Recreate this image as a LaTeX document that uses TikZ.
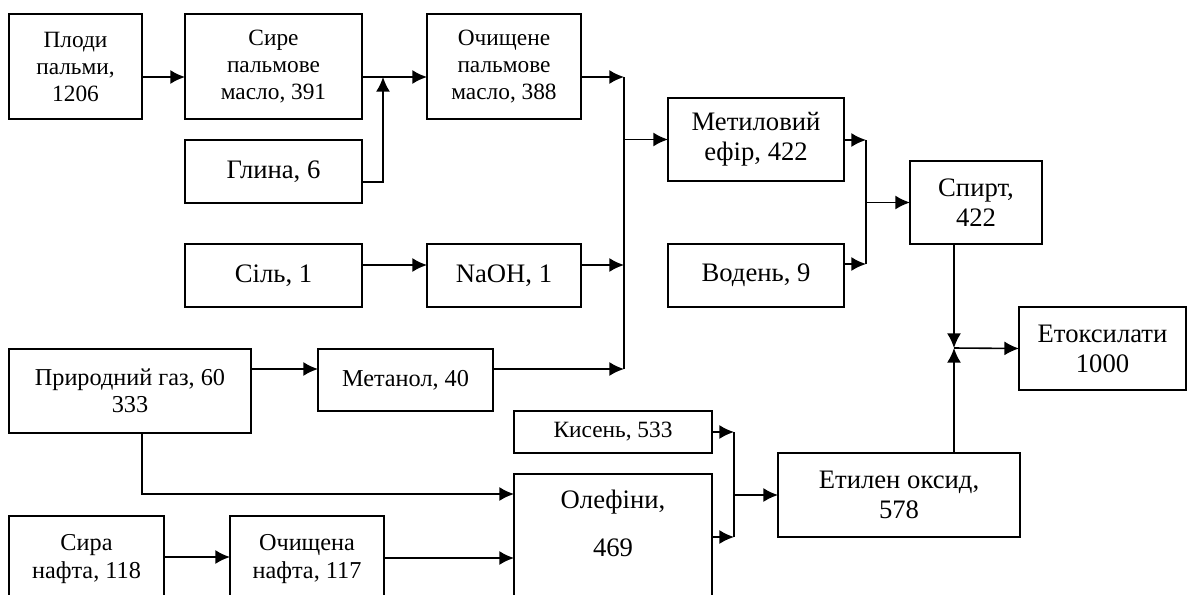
\documentclass[tikz,border=0pt]{standalone}
\usepackage{fontspec}
\setmainfont{Liberation Serif}
\usetikzlibrary{arrows.meta,calc}

\tikzset{%
	>={Latex[length=11pt,width=10.5pt]},
	blok/.style={draw,line width=1.3pt,align=center,inner sep=0pt,outer sep=0pt},
	mal/.style={font=\fontsize{17.5}{20.25}\selectfont},
	ser/.style={font=\fontsize{18.2}{20.5}\selectfont},
	vel/.style={font=\fontsize{20}{22.5}\selectfont},
	potik/.style={->,line width=1.2pt},
	liniya/.style={line width=1.2pt}
}
% box from (x1,y1) to (x2,y2), in pixels
\newcommand\Blok[7][]{%
	\node[blok,minimum width={(#5-#3)*0.75pt},minimum height={(#6-#4)*0.75pt},#1]
	(#2) at ({(#3+#5)/2},{(#4+#6)/2}) {#7};
}

\begin{document}
\begin{tikzpicture}[x=0.75pt,y=-0.75pt]
	\useasboundingbox (0,0) rectangle (1187,594);
	\clip (0,0) rectangle (1187,594);
	
	%% blocks
	\Blok[mal]{plody}{9}{14}{142}{119}{Плоди\\пальми,\\1206}
	\Blok[mal]{syre}{185}{14}{362}{119}{Сире\\пальмове\\масло, 391}
	\Blok[mal]{ochyshch}{427}{14}{581}{119}{Очищене\\пальмове\\масло, 388}
	\Blok[vel]{hlyna}{185}{140}{362}{203}{Глина, 6}
	\Blok[vel]{metefir}{668}{98}{844}{181}{Метиловий\\ефір, 422}
	\Blok[vel]{spyrt}{910}{161}{1042}{244}{Спирт,\\422}
	\Blok[vel]{voden}{668}{244}{844}{307}{Водень, 9}
	\Blok[vel]{sil}{185}{244}{362}{307}{Сіль, 1}
	\Blok[vel]{naoh}{427}{244}{581}{307}{NaOH, 1}
	\Blok[ser]{gaz}{9}{349}{251}{433}{Природний газ, 60\\333}
	\Blok[ser]{metanol}{318}{349}{493}{411}{Метанол, 40}
	\Blok[vel]{etoks}{1019}{307}{1186}{390}{Етоксилати\\1000}
	\Blok[mal]{kysen}{514}{411}{712}{453}{\raisebox{-3.75pt}{Кисень, 533}}
	\fill[white] ($(kysen.south west)+(1,-9)$) rectangle ($(kysen.south east)+(-1,-0.9)$);
	\Blok[font=\fontsize{20}{36}\selectfont]{olef}{514}{474}{712}{620}{\strut Олефіни,\\\strut 469\\\strut}
	\Blok[vel]{etylen}{778}{453}{1020}{537}{Етилен оксид,\\578}
	\Blok[ser]{syranafta}{9}{516}{164}{602}{Сира\\нафта, 118}
	\Blok[ser]{ochnafta}{230}{516}{384}{602}{Очищена\\нафта, 117}
	
	%% collecting points
	\coordinate (g1) at (383,77);
	\coordinate (v1) at (624,77);
	\coordinate (v1b) at (624,369);
	\coordinate (v2) at (866,140);
	\coordinate (v2b) at (866,264);
	\coordinate (v3) at (954,348);
	\coordinate (v4) at (734,432);
	\coordinate (v4b) at (734,537);
	
	%% palm oil line
	\draw[potik] (plody.east |- g1) -- (syre.west |- g1);
	\draw[potik] (syre.east |- g1) -- (ochyshch.west |- g1);
	\draw[potik] ($(hlyna.east)+(0,10.5)$) -| (g1);
	\draw[potik] (ochyshch.east |- v1) -- (v1);
	\draw[potik] ($(sil.east)+(0,-10.5)$) coordinate (s1) -- (naoh.west |- s1);
	\draw[potik] ($(naoh.east)+(0,-10.5)$) coordinate (n1) -- (v1 |- n1);
	\draw[potik] ($(gaz.east)+(0,-22)$) coordinate (p1) -- (metanol.west |- p1);
	\draw[potik] (metanol.east |- v1b) -- (v1b);
	\draw[liniya] (v1) -- (v1b);
	\draw[potik] (v1 |- metefir.west) -- (metefir.west);
	
	%% alcohol
	\draw[potik] (metefir.east |- v2) -- (v2);
	\draw[potik] (voden.east |- v2b) -- (v2b);
	\draw[liniya] (v2) -- (v2b);
	\draw[potik] (v2 |- spyrt.west) -- (spyrt.west);
	
	%% olefins and ethylene oxide
	\draw[potik] ($(gaz.south)+(12,0)$) |- ($(olef.north west)+(0,20)$);
	\draw[potik] ($(syranafta.east)+(0,-2)$) coordinate (r1) -- (ochnafta.west |- r1);
	\draw[potik] ($(ochnafta.east)+(0,-1)$) coordinate (q1) -- (olef.west |- q1);
	\draw[potik] (kysen.east) -- (v4);
	\draw[potik] (olef.east |- v4b) -- (v4b);
	\draw[liniya] (v4) -- (v4b);
	\draw[potik] (v4 |- etylen.west) -- (etylen.west);
	
	%% ethoxylates
	\draw[potik] (v3 |- spyrt.south) -- (v3);
	\draw[potik] (v3 |- etylen.north) -- (v3);
	\draw[potik] (v3) -- (etoks.west);
\end{tikzpicture}
\end{document}
